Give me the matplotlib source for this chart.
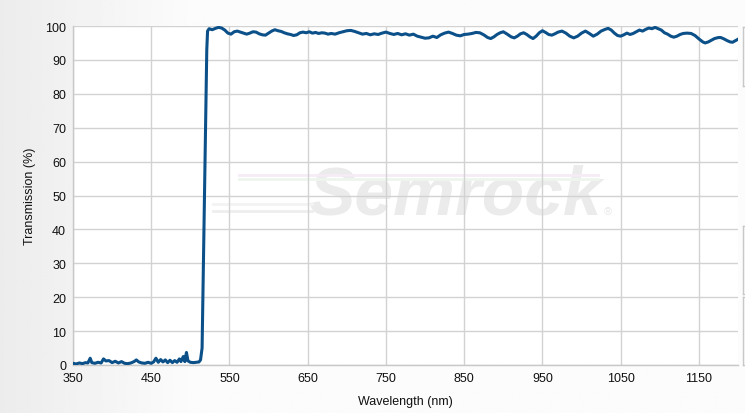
import numpy as np
import matplotlib
matplotlib.use("Agg")
import matplotlib.pyplot as plt
from matplotlib.lines import Line2D

plt.rcParams['font.family'] = ['Liberation Sans', 'DejaVu Sans']

# ---- data ----
wavelength = [
    350, 354, 358, 362, 366, 369, 372, 374, 378, 382, 386, 389, 392, 396, 400,
    404, 408, 412, 416, 420, 424, 428, 431, 434, 438, 442, 446, 450, 453, 456,
    459, 462, 465, 468, 471, 474, 477, 480, 483, 486, 488, 491, 493, 495, 497,
    500, 504, 508, 511, 513, 515, 516, 518, 520, 521, 522, 524,
    528, 532, 536, 540, 544, 548, 552, 556, 560, 564, 568, 572, 576, 580, 584,
    588, 592, 596, 600, 604, 608, 612, 616, 620, 624, 628, 632, 636, 640, 644,
    648, 652, 656, 660, 664, 668, 672, 676, 680, 685, 690, 695, 700, 705, 710,
    715, 720, 725, 730, 735, 740, 745, 750, 755, 760, 765, 770, 775, 780, 785,
    790, 795, 800, 805, 810, 815, 820, 825, 830, 835, 840, 845, 850, 855, 860,
    865, 870, 875, 880, 884, 888, 892, 896, 900, 905, 910, 914, 918, 922, 926,
    930, 934, 938, 942, 946, 950, 954, 958, 962, 966, 970, 975, 980, 985, 990,
    995, 1000, 1005, 1010, 1015, 1020, 1025, 1030, 1034, 1038, 1042, 1046, 1050,
    1054, 1058, 1062, 1066, 1070, 1074, 1078, 1082, 1086, 1090, 1094, 1098,
    1102, 1106, 1110, 1114, 1118, 1122, 1126, 1130, 1135, 1140, 1145, 1150,
    1155, 1158, 1162, 1166, 1170, 1175, 1178, 1182, 1186, 1190, 1193, 1196, 1200,
]
transmission = [
    0.5, 0.3, 0.6, 0.4, 0.7, 0.6, 2.0, 0.7, 0.5, 0.8, 0.6, 1.8, 1.2, 1.3, 0.7,
    1.1, 0.6, 1.0, 0.5, 0.4, 0.6, 1.0, 1.5, 0.9, 0.6, 0.5, 0.8, 0.5, 0.9, 2.0,
    0.8, 1.6, 0.9, 1.5, 0.7, 1.4, 0.7, 1.3, 0.8, 1.8, 1.0, 2.5, 1.0, 3.7, 1.2,
    0.8, 0.7, 0.8, 0.9, 1.5, 5.0, 20.0, 50.0, 80.0, 93.0, 98.5, 99.2,
    98.9, 99.3, 99.6, 99.4, 98.8, 97.9, 97.6, 98.3, 98.5, 98.2, 97.9, 97.6, 97.9, 98.3, 98.2,
    97.7, 97.4, 97.3, 97.9, 98.5, 98.9, 98.6, 98.4, 98.0, 97.7, 97.5, 97.2, 97.4, 98.0, 98.2,
    98.0, 98.3, 97.9, 98.1, 97.8, 98.0, 97.9, 97.6, 97.8, 97.6, 98.0, 98.3, 98.6, 98.7, 98.4,
    98.0, 97.6, 97.8, 97.4, 97.7, 97.5, 97.9, 98.2, 97.8, 97.5, 97.8, 97.4, 97.7, 97.3, 97.6,
    97.0, 96.7, 96.4, 96.5, 97.0, 96.6, 97.4, 97.9, 98.2, 97.8, 97.3, 97.1, 97.5, 97.6, 97.8,
    98.1, 98.0, 97.4, 96.6, 96.3, 96.8, 97.5, 98.0, 98.3, 97.6, 96.8, 96.5, 97.0, 97.7, 98.0,
    97.5, 96.8, 96.3, 97.0, 98.0, 98.6, 98.1, 97.5, 97.3, 97.7, 98.2, 98.5, 97.9, 97.0, 96.5,
    97.0, 97.9, 98.5, 97.8, 97.0, 97.6, 98.5, 99.0, 99.3, 98.8, 97.9, 97.2, 97.0,
    97.4, 97.9, 97.5, 97.8, 98.3, 98.8, 98.5, 99.0, 99.4, 99.2, 99.6, 99.2,
    98.8, 98.0, 97.6, 97.0, 96.7, 97.0, 97.5, 97.8, 97.9, 97.8, 97.2, 96.2,
    95.3, 95.0, 95.3, 95.8, 96.3, 96.6, 96.6, 96.2, 95.7, 95.3, 95.2, 95.6, 96.1,
]
x_ticks = [350, 450, 550, 650, 750, 850, 950, 1050, 1150]
y_ticks = [0, 10, 20, 30, 40, 50, 60, 70, 80, 90, 100]

W, H = 745, 414
fig = plt.figure(figsize=(W / 100, H / 100), dpi=100)

# background gradient
bg = fig.add_axes([0, 0, 1, 1], zorder=-10)
grad = np.ones((10, 256))
xs = np.linspace(0, 1, 256)
grad[:] = 0.985 - 0.06 * np.clip(1 - xs / 0.25, 0, 1)
bg.imshow(grad, cmap='gray', vmin=0, vmax=1, aspect='auto', extent=[0, 1, 0, 1])
bg.set_xlim(0, 1); bg.set_ylim(0, 1)
bg.axis('off')

L, R, T_, B = 73, 738, 27, 366
ax = fig.add_axes([L / W, 1 - B / H, (R - L) / W, (B - T_) / H])
ax.set_facecolor('white')

# watermark
ax.text(0.575, 0.50, 'Semrock', transform=ax.transAxes, fontsize=50, fontstyle='italic',
        fontweight='bold', color='#ebebeb', ha='center', va='center', zorder=0.1)
ax.text(0.805, 0.455, '®', transform=ax.transAxes, fontsize=8, color='#e8e8e8',
        ha='center', va='center', zorder=0.1)
for dy, c in [(0.56, '#f5ecf5'), (0.55, '#eef5ee')]:
    ax.plot([0.25, 0.79], [dy, dy], transform=ax.transAxes, color=c, lw=2.0, zorder=0.1)
ax.plot([0.21, 0.36], [0.455, 0.455], transform=ax.transAxes, color='#eeeeee', lw=2.0, zorder=0.1)
ax.plot([0.21, 0.36], [0.475, 0.475], transform=ax.transAxes, color='#f3f3f3', lw=2.0, zorder=0.1)

ax.plot(wavelength, transmission, color='#0b5088', lw=2.2, zorder=3, solid_joinstyle='round')

ax.set_xlim(350, 1200)
ax.set_ylim(0, 100)
ax.set_xticks(x_ticks)
ax.set_yticks(y_ticks)
ax.grid(True, color='#d2d2d2', lw=1.0, zorder=0.5)
ax.set_axisbelow(True)
for s in ['top', 'right']:
    ax.spines[s].set_visible(False)
for s in ['left', 'bottom']:
    ax.spines[s].set_color('#c8c8c8')
    ax.spines[s].set_linewidth(1.0)
ax.tick_params(length=0, labelsize=9, colors='#111111', pad=5)
ax.set_xlabel('Wavelength (nm)', fontsize=9, color='#111111', labelpad=8)
ax.set_ylabel('Transmission (%)', fontsize=9, color='#111111')
ax.yaxis.set_label_coords(-0.055, 0.5)

# fragments of right-hand panels
for y0, y1 in [(28, 87), (227, 295), (298, 366)]:
    fig.add_artist(Line2D([743 / W, 743 / W], [1 - y0 / H, 1 - y1 / H], color='#c8c8c8', lw=1))
    fig.add_artist(Line2D([743 / W, 1], [1 - y0 / H, 1 - y0 / H], color='#c8c8c8', lw=1))
    fig.add_artist(Line2D([743 / W, 1], [1 - y1 / H, 1 - y1 / H], color='#c8c8c8', lw=1))

fig.savefig('out.png', dpi=100)
